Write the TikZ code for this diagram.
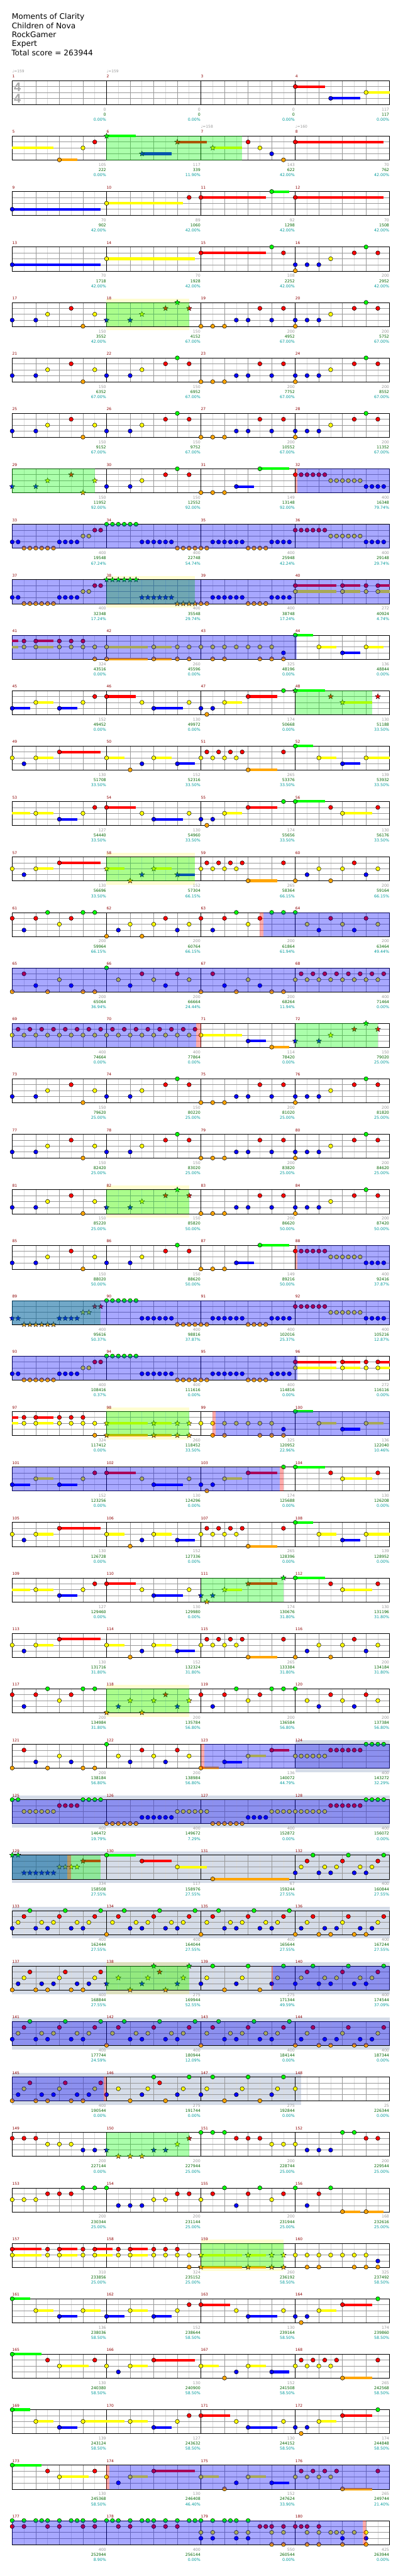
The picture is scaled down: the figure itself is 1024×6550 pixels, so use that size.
\documentclass[tikz,border=0pt]{standalone}
\usepackage{fontspec}
\setmainfont{DejaVu Sans}
\newfontfamily\tsfont{Liberation Sans}
\usetikzlibrary{shapes.geometric}
\definecolor{Lg}{HTML}{00FF00}
\definecolor{Lr}{HTML}{FF0000}
\definecolor{Ly}{HTML}{FFFF00}
\definecolor{Lb}{HTML}{0000FF}
\definecolor{Lo}{HTML}{FFA500}
\definecolor{mnumc}{HTML}{8B0000}
\definecolor{scgc}{HTML}{999999}
\definecolor{sckc}{HTML}{006400}
\definecolor{sccc}{HTML}{009999}
\definecolor{gbandc}{HTML}{D5DCE8}
\definecolor{dgridc}{HTML}{999999}
\definecolor{lgridc}{HTML}{DCDCDC}
\definecolor{tsigc}{HTML}{AAAAAA}
\def\LYg{0}\def\LYr{15}\def\LYy{30}\def\LYb{45}\def\LYo{60.5}
\newcommand\setm[1]{\pgfmathtruncatemacro\mr{(#1-1)/4}\pgfmathtruncatemacro\mc{#1-1-4*\mr}\pgfmathsetmacro\mX{31+240*\mc}\pgfmathsetmacro\mY{205+141*\mr}}
\newcommand\Nt[3]{\setm{#1}\expandafter\let\expandafter\lyv\csname LY#2\endcsname\foreach \pp in {#3}{\filldraw[note,fill=L#2] (\mX+15*\pp,\mY+\lyv) circle[radius=5.3pt];}}
\newcommand\St[3]{\setm{#1}\expandafter\let\expandafter\lyv\csname LY#2\endcsname\foreach \pp in {#3}{\node[starn,fill=L#2] at (\mX+15*\pp,\mY+\lyv) {};}}
\newcommand\Su[4]{\setm{#1}\expandafter\let\expandafter\lyv\csname LY#2\endcsname\draw[sus,L#2] (\mX+15*#3,\mY+\lyv) -- (\mX+15*#3+15*#4,\mY+\lyv);}
\newcommand\Reg[7]{\setm{#4}\pgfmathsetmacro\xe{\mX+15*(#5)}\setm{#2}\pgfmathsetmacro\xs{\mX+15*(#3)}\pgfmathsetmacro\yt{\mY+(#6)}\pgfmathsetmacro\yb{\mY+(#7)}\fill[#1] (\xs,\yt) rectangle (\xe,\yb);}
% patterns: #1 = \Nt or \St, #2 = measure
\newcommand\PatA[2]{#1{#2}{b}{0,4}#1{#2}{y}{6,14}#1{#2}{r}{10}#1{#2}{o}{12}}
\newcommand\PatB[2]{#1{#2}{b}{0,4}#1{#2}{y}{6}#1{#2}{r}{10,14}#1{#2}{g}{12}}
\newcommand\PatC[2]{#1{#2}{o}{0,2,4}#1{#2}{b}{6,8,12}#1{#2}{r}{10,14}}
\newcommand\PatD[2]{#1{#2}{b}{0,2,4}#1{#2}{o}{0}#1{#2}{y}{6}#1{#2}{r}{10,14}#1{#2}{g}{12}}
\newcommand\PatE[2]{\Su{#2}{b}{6}{3}\Su{#2}{g}{10}{5}#1{#2}{o}{0,2,4}#1{#2}{b}{6}#1{#2}{g}{10}}
\newcommand\PatF[2]{#1{#2}{r}{0,1,2,3,4,5}#1{#2}{y}{6,7,8,9,10,11}#1{#2}{b}{12,13,14,15}}
\newcommand\PatG[2]{#1{#2}{b}{0,1,8,9,10,11}#1{#2}{o}{2,3,4,5,6,7}#1{#2}{y}{12,13}#1{#2}{r}{14,15}}
\newcommand\PatH[2]{#1{#2}{g}{0,1,2,3,4,5}#1{#2}{b}{6,7,8,9,10,11}#1{#2}{o}{12,13,14,15}}
\newcommand\PatI[2]{#1{#2}{o}{0,1,8,9,10,11}#1{#2}{b}{2,3,4,5,6,7,12,13,14,15}}
\newcommand\PatJ[2]{\Su{#2}{r}{0}{7}\Su{#2}{y}{0}{7}\Su{#2}{r}{8}{3}\Su{#2}{y}{8}{3}\Su{#2}{r}{14}{2}\Su{#2}{y}{14}{2}#1{#2}{r}{0,8,12,14}#1{#2}{y}{0,8,12,14}}
\newcommand\PatK[2]{\Su{#2}{r}{0}{1}\Su{#2}{y}{0}{1}\Su{#2}{r}{4}{3}\Su{#2}{y}{4}{3}#1{#2}{r}{2,4,8,10,12}#1{#2}{y}{2,4,8,10,12,14}#1{#2}{o}{14}}
\newcommand\PatL[2]{\Su{#2}{y}{0}{7}\Su{#2}{o}{0}{7}\Su{#2}{y}{8}{3}\Su{#2}{o}{8}{3}#1{#2}{y}{0,8,12,14}#1{#2}{o}{0,8,12,14}}
\newcommand\PatM[2]{#1{#2}{y}{0,2,4,6,8,10,12}#1{#2}{o}{2,4,10,12,14}#1{#2}{b}{14}}
\newcommand\PatN[2]{\Su{#2}{g}{0}{3}\Su{#2}{y}{4}{3}\Su{#2}{b}{8}{3}\Su{#2}{y}{12}{3}#1{#2}{g}{0}#1{#2}{y}{4,12}#1{#2}{b}{8}}
\newcommand\PatO[2]{\Su{#2}{b}{0}{3}\Su{#2}{y}{4}{3}\Su{#2}{b}{8}{3}#1{#2}{b}{0,8}#1{#2}{y}{4,12}#1{#2}{r}{14}}
\newcommand\PatP[2]{\Su{#2}{r}{0}{5}\Su{#2}{b}{8}{5}#1{#2}{r}{0}#1{#2}{y}{6,14}#1{#2}{b}{8}}
\newcommand\PatQ[2]{\Su{#2}{y}{4}{3}\Su{#2}{r}{8}{5}#1{#2}{b}{0,2}#1{#2}{o}{1}#1{#2}{y}{4}#1{#2}{r}{8}#1{#2}{g}{14}}
\newcommand\PatR[2]{\Su{#2}{g}{0}{5}\Su{#2}{y}{8}{5}#1{#2}{g}{0}#1{#2}{r}{6,14}#1{#2}{y}{8}}
\newcommand\PatS[2]{\Su{#2}{y}{4}{3}\Su{#2}{r}{8}{7}#1{#2}{y}{0,4}#1{#2}{b}{2}#1{#2}{r}{8}}
\newcommand\PatT[2]{\Su{#2}{y}{0}{3}\Su{#2}{y}{8}{3}\Su{#2}{b}{12}{3}#1{#2}{y}{0,8}#1{#2}{o}{4}#1{#2}{b}{6,12}}
\newcommand\PatU[2]{\Su{#2}{o}{8}{5}#1{#2}{y}{0,2,4,6}#1{#2}{r}{1,3,5,7,14}#1{#2}{o}{8}}
\newcommand\PatV[2]{\Su{#2}{g}{0}{3}\Su{#2}{y}{4}{3}\Su{#2}{b}{8}{3}\Su{#2}{y}{12}{4}#1{#2}{g}{0}#1{#2}{y}{4,12}#1{#2}{b}{8}}
\newcommand\PatW[2]{\Su{#2}{y}{0}{3}\Su{#2}{y}{4}{3}\Su{#2}{b}{8}{3}#1{#2}{y}{4,12}#1{#2}{b}{8}#1{#2}{r}{14}}
\newcommand\PatX[2]{#1{#2}{o}{0,6}#1{#2}{b}{2,12}#1{#2}{y}{4,8,14}#1{#2}{r}{10}}
\newcommand\PatY[2]{#1{#2}{r}{0,4,10}#1{#2}{b}{2}#1{#2}{g}{6,12,14}#1{#2}{y}{8}}
\newcommand\PatZ[2]{#1{#2}{g}{0}#1{#2}{y}{2,8,14}#1{#2}{b}{4,10}#1{#2}{r}{6,12}}
\newcommand\PatAA[2]{#1{#2}{o}{0,6,12,14}#1{#2}{r}{2}#1{#2}{b}{4,10}#1{#2}{y}{8}}
\newcommand\PatAB[2]{#1{#2}{y}{0,2,4,6,8,10,12,14}#1{#2}{r}{1,3,5,7,9,11,13,15}}
\newcommand\PatAC[2]{#1{#2}{b}{0,4,6,10,12}#1{#2}{y}{1,5,7,11,13}#1{#2}{r}{2,8,14}#1{#2}{g}{3,9,15}}
\newcommand\PatAD[2]{#1{#2}{o}{0}#1{#2}{b}{4,6,10,12}#1{#2}{y}{1,5,7,11,13}#1{#2}{r}{2,8,14}#1{#2}{g}{3,9,15}}
\newcommand\PatAE[2]{#1{#2}{o}{0,4,6,10,12}#1{#2}{b}{1,5,7,11,13}#1{#2}{y}{2,8,14}#1{#2}{r}{3,9,15}}
\newcommand\PatAF[2]{#1{#2}{b}{0,6,12}#1{#2}{y}{2,7,13}#1{#2}{o}{4,10}#1{#2}{g}{8,14}#1{#2}{r}{9}}
\newcommand\PatAG[2]{#1{#2}{b}{0,6,12}#1{#2}{y}{1,7,13}#1{#2}{g}{2,8,14}#1{#2}{o}{4,10}}
\newcommand\PatAH[2]{#1{#2}{y}{0,1,2,3,4,5}#1{#2}{r}{6,7,8,9,10,11}#1{#2}{g}{12,13,14,15}}
\tikzset{
 note/.style={draw=black,line width=0.8pt},
 starn/.style={star,star points=5,star point ratio=2.3,minimum size=14pt,inner sep=0pt,draw=black,line width=0.6pt},
 sus/.style={line width=6.5pt},
 gbd/.style={fill=gbandc},
 ybd/.style={fill=yellow,fill opacity=0.18},
 gov/.style={fill=green,fill opacity=0.33},
 bov/.style={fill=blue,fill opacity=0.34},
 pnk/.style={fill=red,fill opacity=0.33},
 dgrid/.style={draw=dgridc,line width=1pt},
 lgrid/.style={draw=lgridc,line width=1pt},
 mbar/.style={draw=black,line width=1pt},
 mnum/.style={anchor=base west,inner sep=0pt,text=mnumc,font=\fontsize{9.5}{11}\selectfont},
 tmp/.style={anchor=base west,inner sep=0pt,text=scgc,font=\fontsize{9.5}{11}\selectfont},
 scg/.style={anchor=base east,inner sep=0pt,text=scgc,font=\fontsize{10}{12}\selectfont},
 sck/.style={scg,text=sckc},
 scc/.style={scg,text=sccc},
 ttl/.style={anchor=base west,inner sep=0pt,font=\fontsize{19.5}{23}\selectfont},
 tsig/.style={anchor=base west,inner sep=0pt,text=tsigc,font=\tsfont\bfseries\fontsize{32}{32}\selectfont}
}
\begin{document}
\begin{tikzpicture}[x=1pt,y=-1pt]
\useasboundingbox (0,0) rectangle (1024,6550);
% ---------- background bands
\Reg{gbd}{124}{0}{124}{16}{-10}{71}
\foreach \mm in {125,129,133,137,141}{\pgfmathtruncatemacro\me{\mm+3}\Reg{gbd}{\mm}{0}{\me}{16}{-10}{71}}
\Reg{gbd}{145}{0}{148}{1}{-10}{71}
\Reg{ybd}{18}{0}{18}{14}{-10}{71}
\Reg{ybd}{38}{0}{38}{15}{-10}{71}
\Reg{ybd}{58}{0}{58}{15}{-10}{71}
\Reg{ybd}{82}{0}{82}{14}{-10}{71}
\Reg{ybd}{98}{0}{98}{14}{-10}{71}
\Reg{ybd}{118}{0}{118}{14}{-10}{71}
\Reg{ybd}{138}{0}{138}{14}{-10}{71}
\Reg{ybd}{159}{0}{159}{14}{-10}{71}
% ---------- staves
\foreach \r in {0,...,44}{
 \pgfmathsetmacro\yy{205+141*\r}
 \foreach \k in {1,3,...,31} \draw[lgrid] (31+30*\k,\yy) -- (31+30*\k,\yy+61);
 \foreach \k in {1,2,3,5,6,7,9,10,11,13,14,15} \draw[dgrid] (31+60*\k,\yy) -- (31+60*\k,\yy+61);
 \foreach \h in {15,30,45} \draw[dgrid] (31,\yy+\h) -- (991,\yy+\h);
 \foreach \k in {1,2,3} \draw[mbar] (31+240*\k,\yy) -- (31+240*\k,\yy+61);
 \draw[mbar] (31,\yy) rectangle (991,\yy+61);
}
\node[tsig] (ts1) at (35,232) {4};
\node[tsig] (ts2) at (35,262) {4};
% ---------- notes
\Su{4}{r}{0}{5}\Su{4}{b}{6}{5}\Su{4}{y}{12}{4}\Nt{4}{r}{0}\Nt{4}{b}{6}\Nt{4}{y}{12}
\Su{5}{y}{0}{7}\Su{5}{o}{8}{3}\Nt{5}{o}{8}\Nt{5}{y}{12}\Nt{5}{r}{14}
\Su{6}{g}{0}{5}\Su{6}{b}{6}{5}\Su{6}{r}{12}{5}\St{6}{g}{0}\St{6}{b}{6}\St{6}{r}{12}
\Su{7}{y}{2}{5}\St{7}{y}{2}\Nt{7}{r}{8}\Nt{7}{y}{10}\Nt{7}{b}{12}\Nt{7}{o}{14}
\Su{8}{r}{0}{15}\Nt{8}{r}{0}
\Su{9}{b}{0}{15}\Nt{9}{b}{0}
\Su{10}{y}{0}{13}\Nt{10}{y}{0}\Nt{10}{r}{14}
\Su{11}{r}{0}{11}\Su{11}{g}{12}{3}\Nt{11}{r}{0}\Nt{11}{g}{12}
\Su{12}{r}{0}{15}\Nt{12}{r}{0}
\Su{13}{b}{0}{15}\Nt{13}{b}{0}
\Su{14}{y}{0}{15}\Nt{14}{y}{0}
\Su{15}{r}{0}{11}\Nt{15}{r}{0,14}\Nt{15}{g}{12}
\PatD\Nt{16}
\PatA\Nt{17}\PatB\St{18}\PatC\Nt{19}\PatD\Nt{20}
\PatA\Nt{21}\PatB\Nt{22}\PatC\Nt{23}\PatD\Nt{24}
\PatA\Nt{25}\PatB\Nt{26}\PatC\Nt{27}\PatD\Nt{28}
\PatA\St{29}\PatB\Nt{30}\PatE\Nt{31}\PatF\Nt{32}
\PatG\Nt{33}\PatH\Nt{34}\PatI\Nt{35}\PatF\Nt{36}
\PatG\Nt{37}\PatH\St{38}\PatI\Nt{39}\PatJ\Nt{40}
\PatK\Nt{41}\PatL\Nt{42}\PatM\Nt{43}\PatN\Nt{44}
\PatO\Nt{45}\PatP\Nt{46}\PatQ\Nt{47}\PatR\St{48}
\PatS\Nt{49}\PatT\Nt{50}\PatU\Nt{51}\PatV\Nt{52}
\PatW\Nt{53}\PatP\Nt{54}\PatQ\Nt{55}\PatR\Nt{56}
\PatS\Nt{57}\PatT\St{58}\PatU\Nt{59}\PatX\Nt{60}
\PatY\Nt{61}\PatX\Nt{62}\PatY\Nt{63}\PatZ\Nt{64}
\PatAA\Nt{65}\PatZ\Nt{66}\PatAA\Nt{67}\PatAB\Nt{68}
\PatAB\Nt{69}\PatAB\Nt{70}
\Su{71}{y}{0}{7}\Su{71}{b}{8}{3}\Su{71}{o}{12}{3}\Nt{71}{y}{0}\Nt{71}{b}{8}\Nt{71}{o}{12}
\PatB\St{72}
\PatA\Nt{73}\PatB\Nt{74}\PatC\Nt{75}\PatD\Nt{76}
\PatA\Nt{77}\PatB\Nt{78}\PatC\Nt{79}\PatD\Nt{80}
\PatA\Nt{81}\PatB\St{82}\PatC\Nt{83}\PatD\Nt{84}
\PatA\Nt{85}\PatB\Nt{86}\PatE\Nt{87}\PatF\Nt{88}
\PatG\St{89}\PatH\Nt{90}\PatI\Nt{91}\PatF\Nt{92}
\PatG\Nt{93}\PatH\Nt{94}\PatI\Nt{95}\PatJ\Nt{96}
\PatK\Nt{97}\PatL\St{98}\PatM\Nt{99}\PatN\Nt{100}
\PatO\Nt{101}\PatP\Nt{102}\PatQ\Nt{103}\PatR\Nt{104}
\PatS\Nt{105}\PatT\Nt{106}\PatU\Nt{107}\PatV\Nt{108}
\PatW\Nt{109}\PatP\Nt{110}\PatQ\St{111}\PatR\Nt{112}
\PatS\Nt{113}\PatT\Nt{114}\PatU\Nt{115}\PatX\Nt{116}
\PatY\Nt{117}\PatX\St{118}\PatY\Nt{119}\PatZ\Nt{120}
\PatAA\Nt{121}\PatZ\Nt{122}
\Su{123}{o}{0}{3}\Su{123}{b}{4}{3}\Su{123}{y}{8}{3}\Su{123}{r}{12}{3}\Nt{123}{o}{0}\Nt{123}{b}{4}\Nt{123}{y}{8}\Nt{123}{r}{12}
\PatAH\Nt{124}
\Nt{125}{g}{0,1,12,13,14,15}\Nt{125}{y}{2,3,4,5,6,7}\Nt{125}{r}{8,9,10,11}
\Nt{126}{o}{0,1,2,3,4,5}\Nt{126}{b}{6,7,8,9,10,11}\Nt{126}{y}{12,13,14,15}
\Nt{127}{y}{0,1,12,13,14,15}\Nt{127}{o}{2,3,4,5,6,7}\Nt{127}{b}{8,9,10,11}
\PatAH\Nt{128}
\Su{129}{r}{12}{3}\St{129}{g}{0,1}\St{129}{b}{2,3,4,5,6,7}\St{129}{y}{8,9,10,11}\St{129}{r}{12}
\Su{130}{g}{0}{5}\Su{130}{r}{6}{5}\Su{130}{y}{12}{5}\Nt{130}{g}{0}\Nt{130}{r}{6}\Nt{130}{y}{12}
\Su{131}{o}{2}{13}\Nt{131}{o}{2}
\PatAC\Nt{132}
\PatAC\Nt{133}\PatAD\Nt{134}\PatAD\Nt{135}\PatAE\Nt{136}
\PatAE\Nt{137}\PatAF\St{138}\PatAG\Nt{139}\PatAC\Nt{140}
\PatAC\Nt{141}\PatAD\Nt{142}\PatAD\Nt{143}\PatAE\Nt{144}
\PatAE\Nt{145}\PatAF\Nt{146}\PatAG\Nt{147}\Nt{148}{y}{0}
\Nt{149}{r}{0,2,4}\Nt{149}{y}{6,8,10}\Nt{149}{b}{12,14}
\St{150}{b}{0,8,10}\St{150}{o}{2,4,6}\St{150}{y}{12}\St{150}{r}{14}
\Nt{151}{g}{0,2,4}\Nt{151}{r}{6,8,10}\Nt{151}{y}{12,14}
\Nt{152}{y}{0}\Nt{152}{b}{2,4,6}\Nt{152}{g}{8,10}\Nt{152}{r}{12,14}
\Nt{153}{y}{0,2,4}\Nt{153}{r}{6,8,10}\Nt{153}{g}{12,14}
\Nt{154}{g}{0}\Nt{154}{b}{2,4,6}\Nt{154}{y}{8,10}\Nt{154}{r}{12,14}
\Nt{155}{y}{0,12}\Nt{155}{r}{2,8,14}\Nt{155}{g}{4,10}\Nt{155}{b}{6}
\Su{156}{o}{8}{3}\Su{156}{o}{12}{3}\Nt{156}{g}{0,6}\Nt{156}{b}{2}\Nt{156}{r}{4}\Nt{156}{o}{8,12}
\Su{157}{r}{0}{5}\Su{157}{y}{0}{5}\Su{157}{r}{8}{3}\Su{157}{y}{8}{3}\Su{157}{r}{14}{3}\Su{157}{y}{14}{3}\Nt{157}{r}{0,6,8,12,14}\Nt{157}{y}{0,6,8,12,14}
\Su{158}{r}{4}{3}\Su{158}{y}{4}{3}\Nt{158}{r}{2,4,8,10,12}\Nt{158}{y}{2,4,8,10,12,14}\Nt{158}{o}{14}
\PatL\St{159}\PatM\Nt{160}
\PatN\Nt{161}\PatO\Nt{162}\PatP\Nt{163}\PatQ\Nt{164}
\PatR\Nt{165}\PatS\Nt{166}\PatT\Nt{167}\PatU\Nt{168}
\Su{169}{g}{0}{3}\Su{169}{y}{4}{3}\Su{169}{b}{8}{3}\Su{169}{y}{12}{7}\Nt{169}{g}{0}\Nt{169}{y}{4,12}\Nt{169}{b}{8}
\PatW\Nt{170}\PatP\Nt{171}\PatQ\Nt{172}
\PatR\Nt{173}\PatS\Nt{174}\PatT\Nt{175}\PatU\Nt{176}
\Nt{177}{g}{0,2,4,5,6,8,10,11,12,14}\Nt{177}{r}{0,2,6,8,12,14}
\Nt{178}{g}{0,1,2,4,6,7,8,10,12,14,15}\Nt{178}{r}{2,4,8,10,12}
\Nt{179}{g}{0,2,4,5,6,8}\Nt{179}{r}{10,11,12,14}\Nt{179}{y}{0,2,6,8,12,14}\Nt{179}{b}{0,2,6,8}\Nt{179}{o}{12,14}
\Nt{180}{r}{0,1,2,4}\Nt{180}{y}{2,4,6,7,8,10,12}\Nt{180}{b}{8,12}\Nt{180}{o}{2,4,8,12}
% ---------- star power (green) overlays
\Reg{gov}{6}{0}{7}{7}{0}{61}
\Reg{gov}{18}{0}{18}{14}{0}{61}
\Reg{gov}{29}{0}{29}{14}{0}{61}
\Reg{gov}{38}{0}{38}{15}{0}{61}
\Reg{gov}{48}{0}{48}{13}{0}{61}
\Reg{gov}{58}{0}{58}{15}{0}{61}
\Reg{gov}{72}{0}{72}{14}{0}{61}
\Reg{gov}{82}{0}{82}{14}{0}{61}
\Reg{gov}{89}{0}{89}{15}{0}{61}
\Reg{gov}{98}{0}{98}{14}{0}{61}
\Reg{gov}{111}{0}{111}{14}{0}{61}
\Reg{gov}{118}{0}{118}{14}{0}{61}
\Reg{gov}{129}{0}{129}{15}{0}{61}
\Reg{gov}{138}{0}{138}{14}{0}{61}
\Reg{gov}{150}{0}{150}{14}{0}{61}
\Reg{gov}{159}{0}{159}{14}{0}{61}
% ---------- activation (blue) overlays
\Reg{bov}{32}{0.35}{32}{16}{0}{61}
\Reg{bov}{33}{0}{36}{16}{0}{61}
\Reg{bov}{37}{0}{40}{16}{0}{61}
\Reg{bov}{41}{0}{44}{0.27}{0}{61}
\Reg{bov}{63}{10.6}{64}{16}{0}{61}
\Reg{bov}{65}{0}{68}{16}{0}{61}
\Reg{bov}{69}{0}{70}{15.2}{0}{61}
\Reg{bov}{88}{0.4}{88}{16}{0}{61}
\Reg{bov}{89}{0}{92}{16}{0}{61}
\Reg{bov}{93}{0}{96}{0.4}{0}{61}
\Reg{bov}{99}{2.45}{100}{16}{0}{61}
\Reg{bov}{101}{0}{103}{13.35}{0}{61}
\Reg{bov}{123}{0.55}{124}{16}{0}{61}
\Reg{bov}{125}{0}{128}{16}{0}{61}
\Reg{bov}{129}{0}{129}{9.3}{0}{61}
\Reg{bov}{139}{12.15}{140}{16}{0}{61}
\Reg{bov}{141}{0}{144}{16}{0}{61}
\Reg{bov}{145}{0}{145}{15.5}{0}{61}
\Reg{bov}{174}{0.5}{176}{16}{0}{61}
\Reg{bov}{177}{0}{180}{11.4}{0}{61}
% ---------- pink strips
\Reg{pnk}{32}{0}{32}{0.35}{0}{61}
\Reg{pnk}{63}{10}{63}{10.6}{0}{61}
\Reg{pnk}{70}{15.2}{70}{16}{0}{61}
\Reg{pnk}{88}{0}{88}{0.4}{0}{61}
\Reg{pnk}{99}{2}{99}{2.45}{0}{61}
\Reg{pnk}{103}{13.35}{103}{14}{0}{61}
\Reg{pnk}{123}{0}{123}{0.55}{0}{61}
\Reg{pnk}{129}{9.3}{129}{10}{0}{61}
\Reg{pnk}{139}{12}{139}{12.2}{0}{61}
\Reg{pnk}{145}{15.5}{145}{16}{0}{61}
\Reg{pnk}{174}{0}{174}{0.5}{0}{61}
\Reg{pnk}{180}{11.4}{180}{12}{0}{61}
% ---------- title
\node[ttl] (t1) at (30,49) {Moments of Clarity};
\node[ttl] (t2) at (30,72) {Children of Nova};
\node[ttl] (t3) at (30,95) {RockGamer};
\node[ttl] (t4) at (30,118) {Expert};
\node[ttl] (t5) at (29,141) {Total score = 263944};
% ---------- tempo
\foreach \m/\t in {1/159,2/159,7/158,8/160}{\setm{\m}\node[tmp] (tp\m) at (\mX,\mY-20) {♩=\t};}
% ---------- measure numbers
\foreach \m in {1,...,180}{\setm{\m}\node[mnum] (mn\m) at (\mX,\mY-7) {\m};}
% ---------- scores
\foreach \m/\a/\b/\c in {1/0/0/0.00,2/0/0/0.00,3/0/0/0.00,4/117/117/0.00,5/105/222/0.00,6/117/339/11.90,7/143/622/42.00,8/70/762/42.00,9/70/902/42.00,10/89/1060/42.00,11/92/1298/42.00,12/70/1508/42.00,13/70/1718/42.00,14/70/1928/42.00,15/108/2252/42.00,16/200/2952/42.00,17/150/3552/42.00,18/150/4152/67.00,19/200/4952/67.00,20/200/5752/67.00,21/150/6352/67.00,22/150/6952/67.00,23/200/7752/67.00,24/200/8552/67.00,25/150/9152/67.00,26/150/9752/67.00,27/200/10552/67.00,28/200/11352/67.00,29/150/11952/92.00,30/150/12552/92.00,31/149/13148/92.00,32/400/16348/79.74,33/400/19548/67.24,34/400/22748/54.74,35/400/25948/42.24,36/400/29148/29.74,37/400/32348/17.24,38/400/35548/29.74,39/400/38748/17.24,40/272/40924/4.74,41/324/43516/0.00,42/260/45596/0.00,43/325/48196/0.00,44/136/48844/0.00,45/152/49452/0.00,46/130/49972/0.00,47/174/50668/0.00,48/130/51188/33.50,49/130/51708/33.50,50/152/52316/33.50,51/265/53376/33.50,52/139/53932/33.50,53/127/54440/33.50,54/130/54960/33.50,55/174/55656/33.50,56/130/56176/33.50,57/130/56696/33.50,58/152/57304/66.15,59/265/58364/66.15,60/200/59164/66.15,61/200/59964/66.15,62/200/60764/66.15,63/200/61864/61.94,64/200/63464/49.44,65/200/65064/36.94,66/200/66664/24.44,67/200/68264/11.94,68/400/71464/0.00,69/400/74664/0.00,70/400/77864/0.00,71/114/78420/0.00,72/150/79020/25.00,73/150/79620/25.00,74/150/80220/25.00,75/200/81020/25.00,76/200/81820/25.00,77/150/82420/25.00,78/150/83020/25.00,79/200/83820/25.00,80/200/84620/25.00,81/150/85220/25.00,82/150/85820/50.00,83/200/86620/50.00,84/200/87420/50.00,85/150/88020/50.00,86/150/88620/50.00,87/149/89216/50.00,88/400/92416/37.87,89/400/95616/50.37,90/400/98816/37.87,91/400/102016/25.37,92/400/105216/12.87,93/400/108416/0.37,94/400/111616/0.00,95/400/114816/0.00,96/272/116116/0.00,97/324/117412/0.00,98/260/118452/33.50,99/325/120952/22.96,100/136/122040/10.46,101/152/123256/0.00,102/130/124296/0.00,103/174/125688/0.00,104/130/126208/0.00,105/130/126728/0.00,106/152/127336/0.00,107/265/128396/0.00,108/139/128952/0.00,109/127/129460/0.00,110/130/129980/0.00,111/174/130676/31.80,112/130/131196/31.80,113/130/131716/31.80,114/152/132324/31.80,115/265/133384/31.80,116/200/134184/31.80,117/200/134984/31.80,118/200/135784/56.80,119/200/136584/56.80,120/200/137384/56.80,121/200/138184/56.80,122/200/138984/56.80,123/136/140072/44.79,124/400/143272/32.29,125/400/146472/19.79,126/400/149672/7.29,127/400/152872/0.00,128/400/156072/0.00,129/334/158508/27.55,130/117/158976/27.55,131/67/159244/27.55,132/400/160844/27.55,133/400/162444/27.55,134/400/164044/27.55,135/400/165644/27.55,136/400/167244/27.55,137/400/168844/27.55,138/275/169944/52.55,139/275/171344/49.59,140/400/174544/37.09,141/400/177744/24.59,142/400/180944/12.09,143/400/184144/0.00,144/400/187344/0.00,145/400/190544/0.00,146/275/191744/0.00,147/275/192844/0.00,148/25/226344/0.00,149/200/227144/0.00,150/200/227944/25.00,151/200/228744/25.00,152/200/229544/25.00,153/200/230344/25.00,154/200/231144/25.00,155/200/231944/25.00,156/168/232616/25.00,157/310/233856/25.00,158/324/235152/25.00,159/260/236192/58.50,160/325/237492/58.50,161/136/238036/58.50,162/152/238644/58.50,163/130/239164/58.50,164/174/239860/58.50,165/130/240380/58.50,166/130/240900/58.50,167/152/241508/58.50,168/265/242568/58.50,169/139/243124/58.50,170/127/243632/58.50,171/130/244152/58.50,172/174/244848/58.50,173/130/245368/58.50,174/130/246408/46.40,175/152/247624/33.90,176/265/249744/21.40,177/400/252944/8.90,178/400/256144/0.00,179/550/260544/0.00,180/425/263944/0.00}{
 \setm{\m}
 \node[scg] (sa\m) at (\mX+239,\mY+77) {\a};
 \node[sck] (sb\m) at (\mX+239,\mY+90) {\b};
 \node[scc] (sc\m) at (\mX+239,\mY+103) {\c\%};
}
\end{tikzpicture}
\end{document}
